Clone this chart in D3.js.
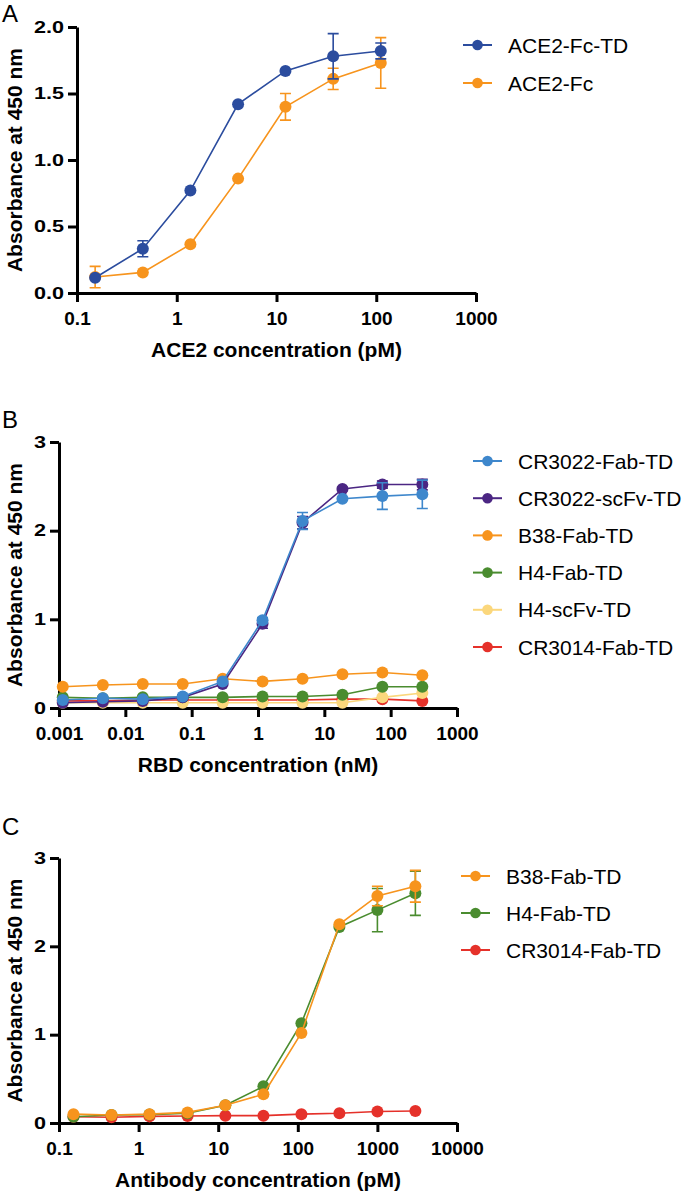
<!DOCTYPE html>
<html>
<head>
<meta charset="utf-8">
<script src="https://cdn.jsdelivr.net/npm/d3@7"></script>
<style>
  html, body { margin: 0; padding: 0; background: #fff; }
  svg { display: block; font-family: "Liberation Sans", Arial, Helvetica, sans-serif; }
</style>
</head>
<body>
<svg id="chart" width="685" height="1196"></svg>
<script>
// ---------------- DATA ----------------
// Panel A
const concA = [0.152, 0.457, 1.37, 4.12, 12.3, 37.0, 111];
const ace2FcTD = [0.115, 0.333, 0.77, 1.42, 1.67, 1.78, 1.82];
const ace2FcTDErr = [0, 0.06, 0, 0, 0, 0.17, 0.06];
const ace2Fc = [0.12, 0.155, 0.366, 0.86, 1.40, 1.61, 1.73];
const ace2FcErr = [0.08, 0, 0, 0, 0.10, 0.08, 0.19];
const ticksAx = [0.1, 1, 10, 100, 1000];
const ticksAy = [0, 0.5, 1.0, 1.5, 2.0];

// Panel B
const concB = [0.00114, 0.00458, 0.0183, 0.0732, 0.293, 1.17, 4.69, 18.75, 75, 300];
const cr3022FabTD = [0.09, 0.11, 0.10, 0.13, 0.30, 0.99, 2.11, 2.36, 2.39, 2.41];
const cr3022FabTDErr = [0, 0, 0, 0, 0, 0.03, 0.095, 0, 0.15, 0.16];
const cr3022ScFvTD = [0.06, 0.07, 0.08, 0.12, 0.27, 0.95, 2.09, 2.47, 2.52, 2.52];
const cr3022ScFvTDErr = [0, 0, 0, 0, 0, 0.05, 0.07, 0.02, 0.04, 0.06];
const b38FabTD_B = [0.24, 0.26, 0.27, 0.27, 0.33, 0.30, 0.33, 0.38, 0.40, 0.37];
const h4FabTD_B = [0.12, 0.11, 0.12, 0.12, 0.12, 0.13, 0.13, 0.15, 0.24, 0.24];
const h4ScFvTD_B = [0.06, 0.06, 0.06, 0.06, 0.06, 0.06, 0.06, 0.06, 0.12, 0.17];
const cr3014FabTD_B = [0.08, 0.08, 0.09, 0.09, 0.09, 0.09, 0.09, 0.10, 0.10, 0.08];
const ticksBx = [0.001, 0.01, 0.1, 1, 10, 100, 1000];
const ticksBy = [0, 1, 2, 3];

// Panel C
const concC = [0.152, 0.457, 1.37, 4.12, 12.3, 37.0, 111, 333, 1000, 3000];
const b38FabTD_C = [0.10, 0.09, 0.10, 0.12, 0.20, 0.325, 1.02, 2.25, 2.57, 2.68];
const b38FabTD_CErr = [0, 0, 0, 0, 0, 0, 0, 0, 0.11, 0.18];
const h4FabTD_C = [0.07, 0.09, 0.095, 0.11, 0.20, 0.415, 1.13, 2.22, 2.41, 2.60];
const h4FabTD_CErr = [0, 0, 0, 0, 0, 0, 0, 0, 0.245, 0.25];
const cr3014FabTD_C = [0.07, 0.065, 0.075, 0.08, 0.083, 0.083, 0.10, 0.11, 0.13, 0.135];
const ticksCx = [0.1, 1, 10, 100, 1000, 10000];
const ticksCy = [0, 1, 2, 3];

// colors
const cBlueDark = "#2b4c9e";
const cOrange = "#f7941d";
const cBlueLight = "#3e87cc";
const cPurple = "#4b2683";
const cGreen = "#4a8c2f";
const cYellow = "#fbd77c";
const cRed = "#e5312a";

// ---------------- DRAW ----------------
const svg = d3.select("#chart");
const FONT = '"Liberation Sans", Arial, Helvetica, sans-serif';

function panel(cfg) {
  const x = d3.scaleLog().domain(cfg.xDomain).range(cfg.xRange);
  const y = d3.scaleLinear().domain(cfg.yDomain).range(cfg.yRange);
  const g = svg.append("g");

  // panel letter
  svg.append("text").attr("x", 2).attr("y", cfg.letterY)
    .attr("font-size", 24).attr("fill", "#000").text(cfg.letter);

  // x axis
  const xa = g.append("g").attr("transform", `translate(0,${cfg.yRange[0]})`)
    .call(d3.axisBottom(x).tickValues(cfg.xTicks).tickFormat(d3.format("~g"))
      .tickSize(9).tickSizeOuter(0).tickPadding(10));
  xa.select(".domain").attr("stroke-width", 3).attr("stroke", "#000");
  xa.selectAll(".tick line").attr("stroke-width", 3).attr("stroke", "#000");
  xa.selectAll("text").attr("font-size", 19).attr("font-weight", "bold")
    .attr("font-family", FONT).attr("fill", "#000");

  // y axis
  const ya = g.append("g").attr("transform", `translate(${cfg.xRange[0]},0)`)
    .call(d3.axisLeft(y).tickValues(cfg.yTicks).tickFormat(d3.format(cfg.yFmt))
      .tickSize(9).tickSizeOuter(0).tickPadding(4));
  ya.select(".domain").attr("stroke-width", 3).attr("stroke", "#000");
  ya.selectAll(".tick line").attr("stroke-width", 3).attr("stroke", "#000");
  const sx = 1.35;
  ya.selectAll("text").attr("font-size", 16).attr("font-weight", "bold")
    .attr("font-family", FONT).attr("fill", "#000")
    .attr("x", function () { return +this.getAttribute("x") / sx; })
    .attr("transform", `scale(${sx},1)`);

  // axis titles
  g.append("text")
    .attr("x", (cfg.xRange[0] + cfg.xRange[1]) / 2)
    .attr("y", cfg.yRange[0] + 64)
    .attr("text-anchor", "middle").attr("font-size", 21).attr("font-weight", "bold")
    .attr("fill", "#000").text(cfg.xTitle);
  g.append("text")
    .attr("transform", `translate(22,${(cfg.yRange[0] + cfg.yRange[1]) / 2}) rotate(-90)`)
    .attr("text-anchor", "middle").attr("font-size", 21).attr("font-weight", "bold")
    .attr("fill", "#000").text("Absorbance at 450 nm");

  // series (drawn in reverse order so first legend item is on top)
  const line = d3.line().x(d => x(d.c)).y(d => y(d.v));
  cfg.series.slice().reverse().forEach(s => {
    const pts = cfg.conc.map((c, i) => ({ c, v: s.values[i], e: s.err ? s.err[i] : 0 }));
    const sg = g.append("g");
    const eb = pts.filter(d => d.e > 0);
    const cap = 5.5;
    sg.selectAll("path.eb").data(eb).join("path").attr("class", "eb")
      .attr("d", d => {
        const cx = x(d.c), y1 = y(d.v + d.e), y2 = y(d.v - d.e);
        return `M${cx},${y1}V${y2}M${cx - cap},${y1}H${cx + cap}M${cx - cap},${y2}H${cx + cap}`;
      })
      .attr("fill", "none").attr("stroke", s.color).attr("stroke-width", 1.6);
    sg.append("path").datum(pts).attr("d", line)
      .attr("fill", "none").attr("stroke", s.color).attr("stroke-width", 1.6);
    sg.selectAll("circle").data(pts).join("circle")
      .attr("cx", d => x(d.c)).attr("cy", d => y(d.v)).attr("r", 6)
      .attr("fill", s.color);
  });

  // legend
  const lg = svg.append("g");
  cfg.series.forEach((s, i) => {
    const ly = cfg.legY0 + i * cfg.legDy;
    lg.append("line").attr("x1", cfg.legX).attr("x2", cfg.legX + 29)
      .attr("y1", ly).attr("y2", ly).attr("stroke", s.color).attr("stroke-width", 2);
    lg.append("circle").attr("cx", cfg.legX + 14.5).attr("cy", ly).attr("r", 5.3)
      .attr("fill", s.color);
    lg.append("text").attr("x", cfg.legX + 45).attr("y", ly).attr("dy", "0.36em")
      .attr("font-size", 21).attr("fill", "#000").text(s.name);
  });
}

panel({
  letter: "A", letterY: 22,
  xDomain: [0.1, 1000], xRange: [77, 476],
  yDomain: [0, 2], yRange: [293, 27],
  xTicks: ticksAx, yTicks: ticksAy, yFmt: ".1f",
  xTitle: "ACE2 concentration (pM)",
  conc: concA,
  series: [
    { name: "ACE2-Fc-TD", values: ace2FcTD, err: ace2FcTDErr, color: cBlueDark },
    { name: "ACE2-Fc", values: ace2Fc, err: ace2FcErr, color: cOrange }
  ],
  legX: 463, legY0: 45, legDy: 38
});

panel({
  letter: "B", letterY: 428,
  xDomain: [0.001, 1000], xRange: [59, 457],
  yDomain: [0, 3], yRange: [708, 442],
  xTicks: ticksBx, yTicks: ticksBy, yFmt: "d",
  xTitle: "RBD concentration (nM)",
  conc: concB,
  series: [
    { name: "CR3022-Fab-TD", values: cr3022FabTD, err: cr3022FabTDErr, color: cBlueLight },
    { name: "CR3022-scFv-TD", values: cr3022ScFvTD, err: cr3022ScFvTDErr, color: cPurple },
    { name: "B38-Fab-TD", values: b38FabTD_B, color: cOrange },
    { name: "H4-Fab-TD", values: h4FabTD_B, color: cGreen },
    { name: "H4-scFv-TD", values: h4ScFvTD_B, color: cYellow },
    { name: "CR3014-Fab-TD", values: cr3014FabTD_B, color: cRed }
  ],
  legX: 473, legY0: 461, legDy: 37.2
});

panel({
  letter: "C", letterY: 835,
  xDomain: [0.1, 10000], xRange: [59, 457],
  yDomain: [0, 3], yRange: [1123, 858],
  xTicks: ticksCx, yTicks: ticksCy, yFmt: "d",
  xTitle: "Antibody concentration (pM)",
  conc: concC,
  series: [
    { name: "B38-Fab-TD", values: b38FabTD_C, err: b38FabTD_CErr, color: cOrange },
    { name: "H4-Fab-TD", values: h4FabTD_C, err: h4FabTD_CErr, color: cGreen },
    { name: "CR3014-Fab-TD", values: cr3014FabTD_C, color: cRed }
  ],
  legX: 461, legY0: 876, legDy: 37
});
</script>
</body>
</html>
